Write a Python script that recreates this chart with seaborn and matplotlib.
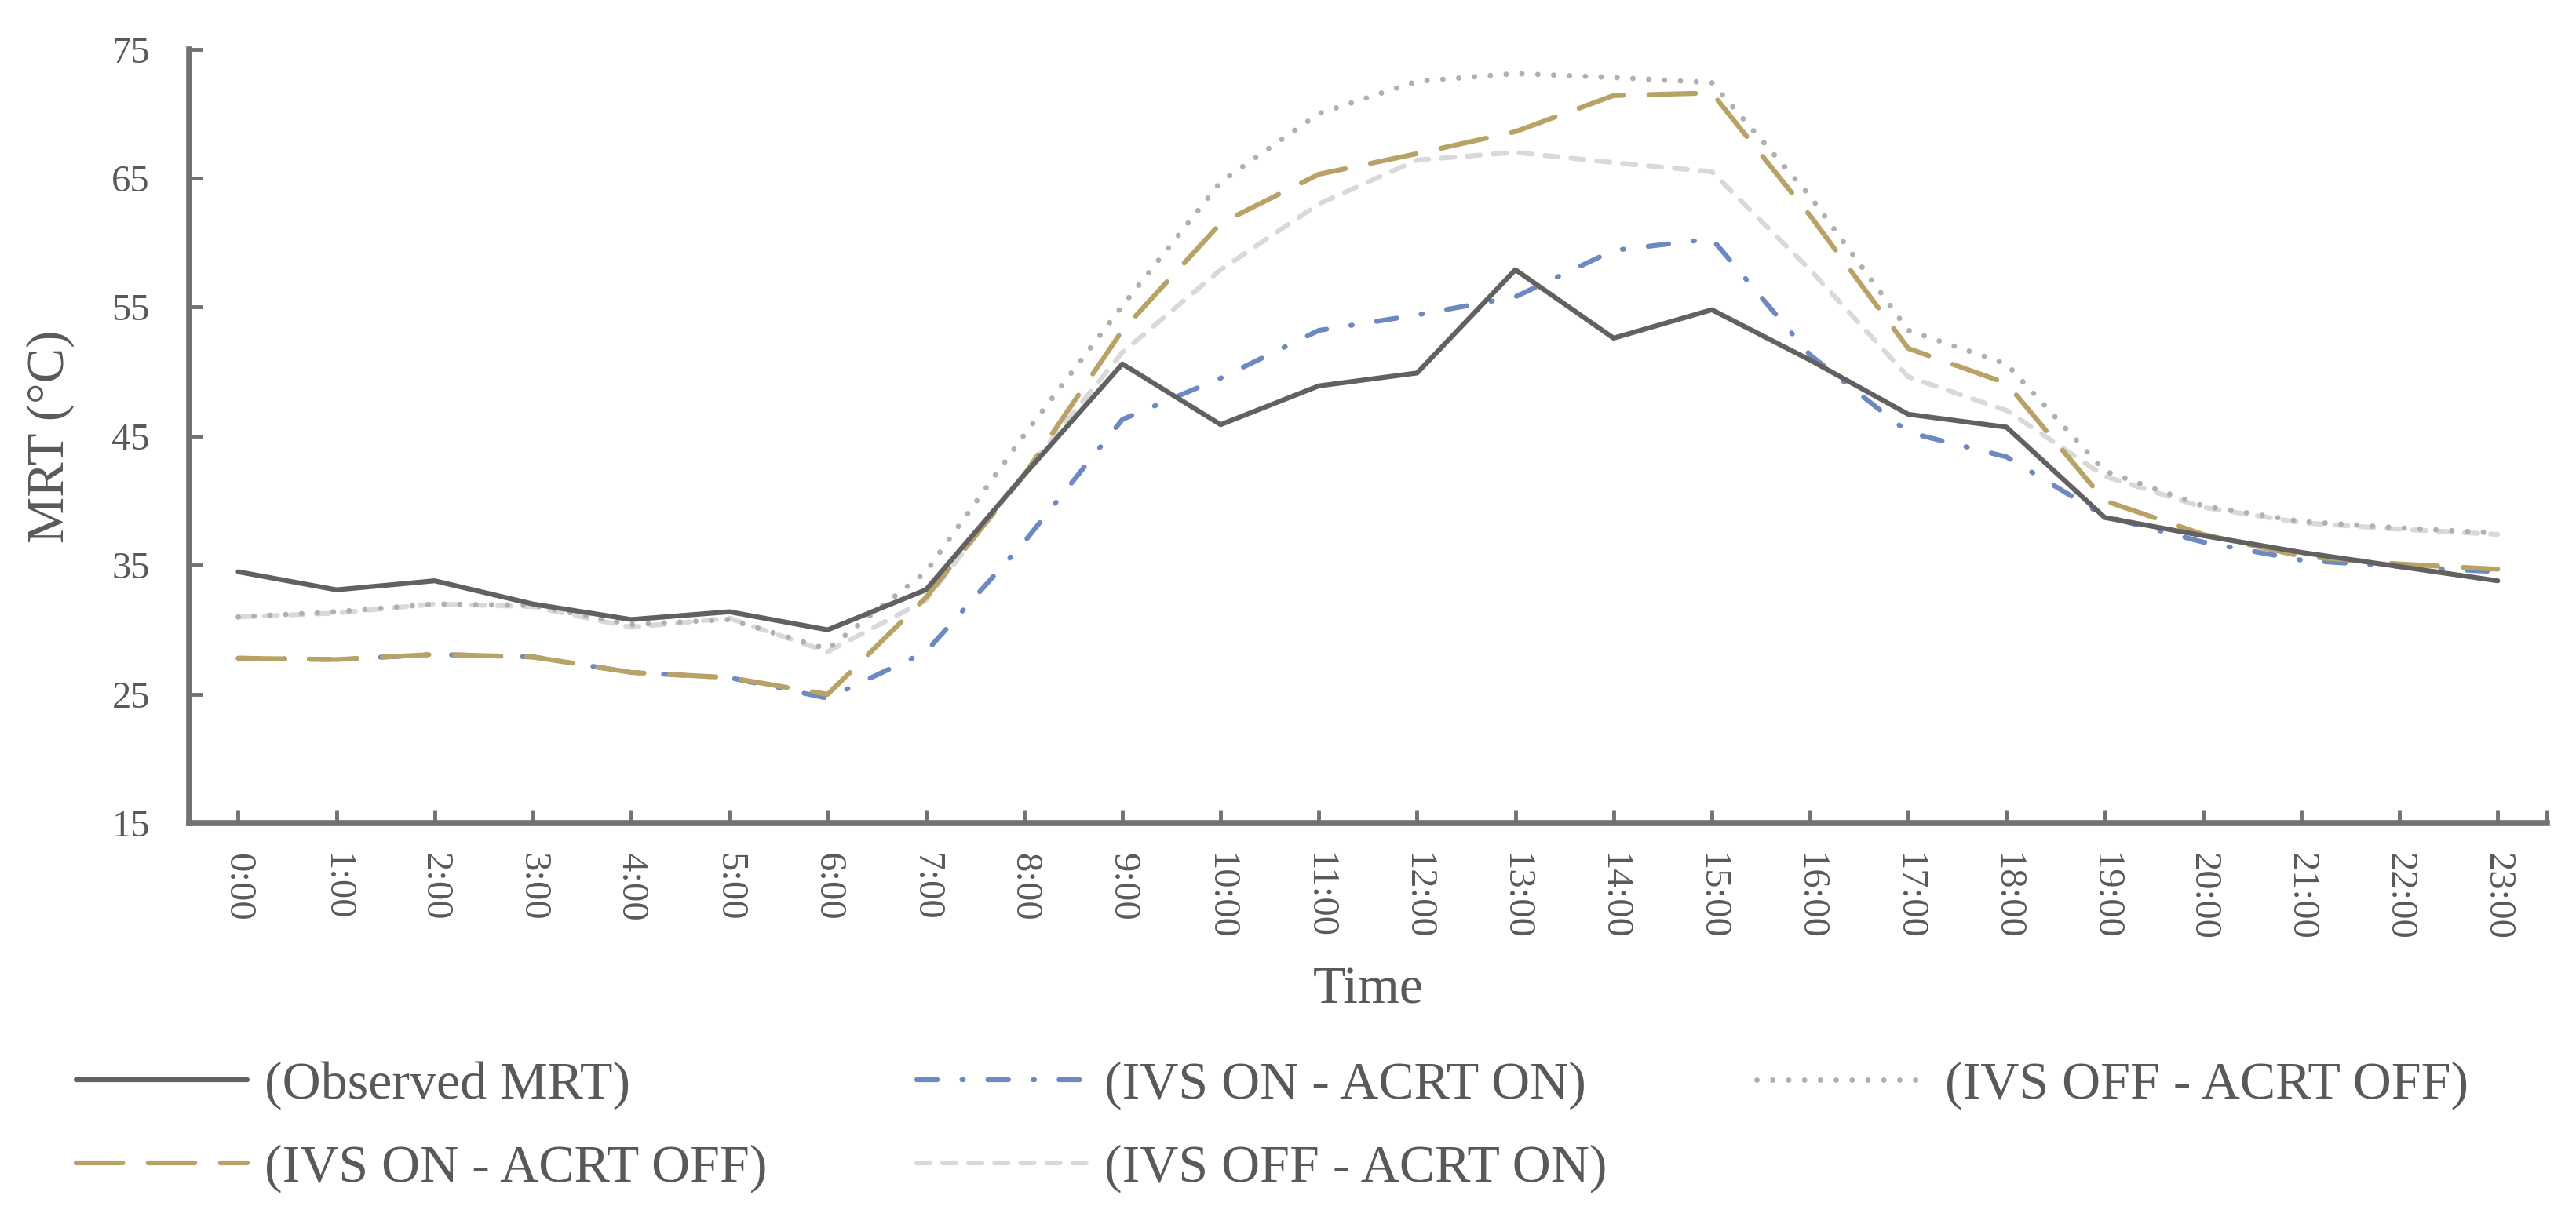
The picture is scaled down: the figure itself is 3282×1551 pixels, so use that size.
import matplotlib
matplotlib.use("Agg")
import matplotlib.pyplot as plt
import numpy as np
import pandas as pd
import seaborn as sns

# ---------- data ----------
hour_labels = ["0:00", "1:00", "2:00", "3:00", "4:00", "5:00", "6:00", "7:00",
               "8:00", "9:00", "10:00", "11:00", "12:00", "13:00", "14:00",
               "15:00", "16:00", "17:00", "18:00", "19:00", "20:00", "21:00",
               "22:00", "23:00"]

observed = [34.5, 33.1, 33.8, 32.0, 30.8, 31.4, 30.0, 33.1, 42.0, 50.6, 45.9, 48.9,
            49.9, 57.9, 52.6, 54.8, 50.9, 46.7, 45.7, 38.7, 37.3, 36.0, 34.9, 33.8]
ivs_on_acrt_on = [27.8, 27.7, 28.1, 27.9, 26.7, 26.3, 24.7, 28.3, 36.8, 46.3, 49.5, 53.2,
                  54.4, 55.8, 59.4, 60.3, 51.3, 45.3, 43.4, 38.8, 36.8, 35.4, 34.9, 34.5]
ivs_on_acrt_off = [27.8, 27.7, 28.1, 27.9, 26.7, 26.3, 25.0, 32.5, 42.0, 53.2, 61.5, 65.3,
                   66.9, 68.6, 71.4, 71.6, 62.1, 51.8, 49.1, 40.0, 37.4, 35.7, 35.1, 34.7]
ivs_off_acrt_off = [31.0, 31.4, 32.0, 31.9, 30.4, 30.8, 28.5, 34.5, 45.1, 55.1, 64.7, 70.0,
                    72.5, 73.1, 72.8, 72.4, 63.6, 53.2, 50.6, 42.3, 39.6, 38.4, 37.9, 37.5]
ivs_off_acrt_on = [31.0, 31.3, 32.0, 31.8, 30.2, 30.9, 28.3, 32.3, 42.1, 51.5, 57.9, 63.0,
                   66.4, 67.0, 66.2, 65.5, 57.9, 49.6, 47.0, 41.9, 39.5, 38.3, 37.8, 37.4]

series_labels = ["(Observed MRT)", "(IVS ON - ACRT ON)", "(IVS OFF - ACRT OFF)",
                 "(IVS ON - ACRT OFF)", "(IVS OFF - ACRT ON)"]
y_ticks = [15, 25, 35, 45, 55, 65, 75]

# ---------- style ----------
sns.set_theme(style="white")
plt.rcParams["font.family"] = ["Liberation Serif", "DejaVu Serif"]
TXT = "#595959"
AXC = "#767171"
LW = 4.5

df = pd.DataFrame({
    "hour": np.arange(len(hour_labels)),
    series_labels[0]: observed,
    series_labels[1]: ivs_on_acrt_on,
    series_labels[2]: ivs_off_acrt_off,
    series_labels[3]: ivs_on_acrt_off,
    series_labels[4]: ivs_off_acrt_on,
})

# label -> (colour, linestyle, linewidth)
styles = {
    series_labels[4]: ("#D9D9D9", (0, (2.7, 2.6)), LW),
    series_labels[2]: ("#B0B0B0", (0, (0.01, 2.9)), 5.0),
    series_labels[1]: ("#6C89C0", (0, (4.2, 5.0, 0.3, 5.0)), LW),
    series_labels[3]: ("#B8A266", (0, (9.5, 5.2)), LW),
    series_labels[0]: ("#616161", "-", LW),
}

fig = plt.figure(figsize=(32.82, 15.51), dpi=100)
ax = fig.add_axes([0.0734, 0.3234, 0.9153, 0.6363])

handles = {}
for lab, (col, ls, lw) in styles.items():
    sns.lineplot(data=df, x="hour", y=lab, ax=ax, color=col, linestyle=ls,
                 label=lab)
    line = ax.lines[-1]
    line.set_linewidth(lw)
    line.set_dash_capstyle("round")
    line.set_solid_joinstyle("round")
    line.set_dash_joinstyle("round")
    handles[lab] = line

ax.set_xlim(-0.5, 23.5)
ax.set_ylim(15, 75)
ax.set_yticks(y_ticks)
ax.set_xticks(list(range(len(hour_labels))) + [23.5])
ax.set_xticklabels(hour_labels + [""], rotation=270)

for s in ["top", "right"]:
    ax.spines[s].set_visible(False)
for s in ["left", "bottom"]:
    ax.spines[s].set_color(AXC)
    ax.spines[s].set_linewidth(5.5)

ax.tick_params(axis="y", direction="in", length=12, width=3.5, color=AXC,
               pad=36, labelsize=35, labelcolor=TXT, left=True)
ax.tick_params(axis="x", direction="in", length=12, width=3.5, color=AXC,
               pad=27, labelsize=35, labelcolor=TXT, bottom=True)

ax.set_xlabel("Time", fontsize=49, color=TXT, labelpad=24)
ax.set_ylabel("MRT (°C)", fontsize=48, color=TXT, labelpad=34)

# legend: row 1 = obs, on-on, off-off ; row 2 = on-off, off-on
order = [series_labels[0], series_labels[3], series_labels[1],
         series_labels[4], series_labels[2]]
ax.legend([handles[k] for k in order], order, ncol=3, frameon=False,
          fontsize=49, labelcolor=TXT, handlelength=3.2, handletextpad=0.32,
          columnspacing=2.8, labelspacing=0.65, borderpad=0, borderaxespad=0,
          loc="upper left", bbox_to_anchor=(0.0296, 0.1283),
          bbox_transform=fig.transFigure)

fig.savefig("out.png", dpi=100)
